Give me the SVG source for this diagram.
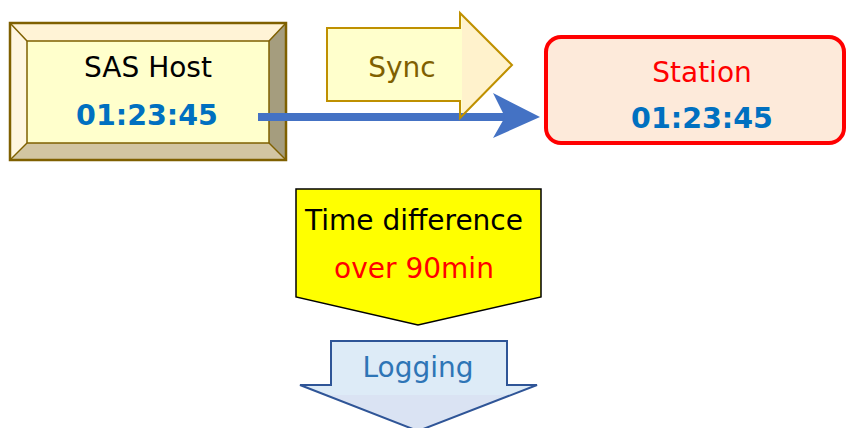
<svg xmlns="http://www.w3.org/2000/svg" width="848" height="428" viewBox="0 0 848 428">
<style>
text{font-family:"DejaVu Sans","Verdana",sans-serif;font-size:28px;text-anchor:middle}
.time{font-weight:bold;fill:#0070c0;font-size:28.5px}
.sync-edge{fill:none;stroke:#bf9000;stroke-width:2}
</style>
<defs>
<linearGradient id="syncFill" x1="0" y1="0" x2="1" y2="0">
<stop offset="0" stop-color="#ffffcc"/>
<stop offset="0.73" stop-color="#ffffcc"/>
<stop offset="0.73" stop-color="#fff2cc"/>
<stop offset="1" stop-color="#fff2cc"/>
</linearGradient>
<linearGradient id="logFill" x1="0" y1="0" x2="0" y2="1">
<stop offset="0" stop-color="#ddebf7"/>
<stop offset="0.6" stop-color="#ddebf7"/>
<stop offset="0.6" stop-color="#dae3f3"/>
<stop offset="1" stop-color="#dae3f3"/>
</linearGradient>
</defs>
<g id="sas-host">
<rect x="10" y="23" width="276" height="137" fill="#ffffcc"/>
<polygon points="10,23 286,23 269,41 27,41" fill="#fff3d6"/>
<polygon points="10,23 27,41 27,143 10,160" fill="#fff6e0"/>
<polygon points="286,23 286,160 269,143 269,41" fill="#a59d7e"/>
<polygon points="10,160 286,160 269,143 27,143" fill="#d2c5a2"/>
<rect x="10" y="23" width="276" height="137" fill="none" stroke="#7f6000" stroke-width="2.5"/>
<rect x="27" y="41" width="242" height="102" fill="none" stroke="#7f6000" stroke-width="1.5"/>
<line x1="10" y1="23" x2="27" y2="41" stroke="#7f6000" stroke-width="1.5"/>
<line x1="286" y1="23" x2="269" y2="41" stroke="#7f6000" stroke-width="1.5"/>
<line x1="10" y1="160" x2="27" y2="143" stroke="#7f6000" stroke-width="1.5"/>
<line x1="286" y1="160" x2="269" y2="143" stroke="#7f6000" stroke-width="1.5"/>
<text x="148" y="77">SAS Host</text>
<text class="time" x="147" y="125">01:23:45</text>
</g>
<g id="sync">
<polygon points="327,28 460,28 460,13 512,65 460,118 460,101 327,101" fill="url(#syncFill)"/>
<text x="402" y="77" fill="#7f6000">Sync</text>
</g>
<g id="connectors">
<line x1="258" y1="117" x2="515" y2="117" stroke="#4472c4" stroke-width="8"/>
<polygon points="493,93 540,117 493,138 505,117" fill="#4472c4"/>
</g>
<g id="sync-outline">
<polygon class="sync-edge" points="327,28 460,28 460,13 512,65 460,118 460,101 327,101"/>
</g>
<g id="station">
<rect x="546" y="37" width="298" height="106" rx="15" fill="#fdeada" stroke="#ff0000" stroke-width="4"/>
<text x="702" y="82" fill="#ff0000">Station</text>
<text class="time" x="702" y="128">01:23:45</text>
</g>
<g id="time-difference">
<polygon points="296,189 541,189 541,297 418,325 296,297" fill="#ffff00" stroke="#000000" stroke-width="1.5"/>
<text x="414" y="230" fill="#000000">Time difference</text>
<text x="414" y="278" fill="#ff0000">over 90min</text>
</g>
<g id="logging">
<polygon points="331,341 507,341 507,385 537,385 418,431 300,385 331,385" fill="url(#logFill)" stroke="#2f5597" stroke-width="2"/>
<text x="418" y="377" fill="#2e75b6">Logging</text>
</g>
</svg>
